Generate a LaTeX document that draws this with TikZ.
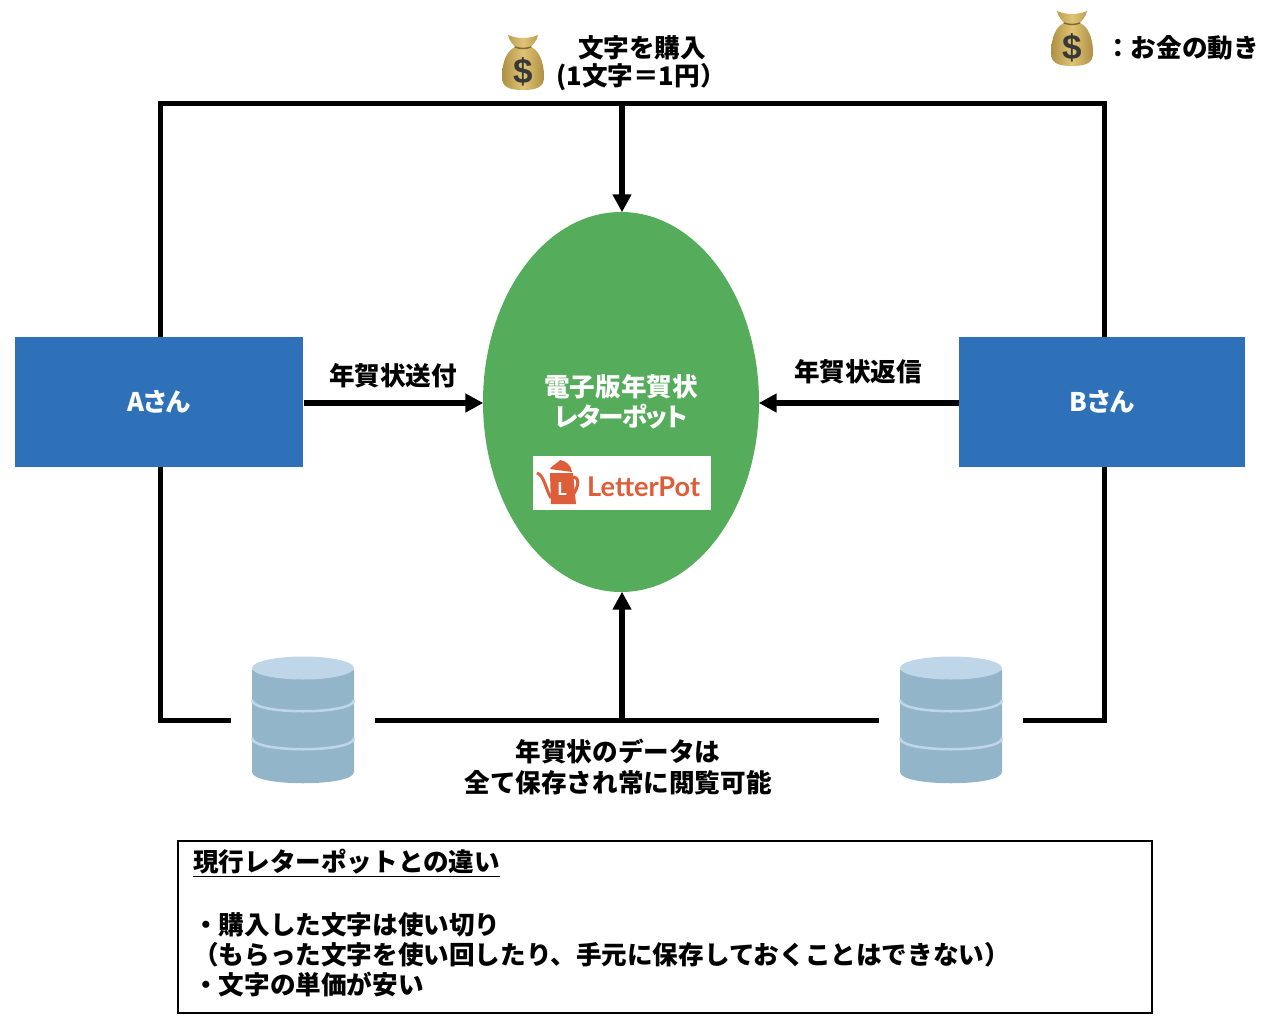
\documentclass[tikz,border=0pt]{standalone}
\usepackage{fontspec}
\setmainfont{Noto Sans CJK JP}
\newfontfamily\logofont{Lato}
\newfontfamily\bagfont{Liberation Sans}
\usetikzlibrary{arrows.meta,shapes.geometric}
\definecolor{boxblue}{HTML}{2E71B8}
\definecolor{potgreen}{HTML}{55AC5B}
\definecolor{logored}{HTML}{DE5E3A}
\definecolor{dbbody}{HTML}{93B5CA}
\definecolor{dbtop}{HTML}{BFD6E8}
\definecolor{bagmid}{HTML}{E0C474}
\definecolor{bagedge}{HTML}{AE9045}
\definecolor{bagneck}{HTML}{7F6A35}
\tikzset{
  jptext/.style={font=\bfseries\fontsize{25.6}{30}\selectfont,inner sep=0pt,align=center},
  tightjp/.style={font=\bfseries\fontsize{25.6}{30}\selectfont\addfontfeatures{RawFeature=+palt},inner sep=0pt,align=center},
  personbox/.style={tightjp,fill=boxblue,text=white,minimum width=288pt,minimum height=130pt},
  flow/.style={line width=5pt},
  flowarrow/.style={line width=6.5pt,-{Triangle[length=18pt,width=18pt]},shorten >=-0.5pt},
  gapnode/.style={inner sep=0pt,minimum width=144pt,minimum height=126pt},
  moneybag/.pic={
    % bag body and tied neck
    \path[left color=bagedge,right color=bagedge,middle color=bagmid]
      (-15,-28) .. controls (-6,-24) and (6,-24) .. (15,-28)
      .. controls (14,-22) and (10,-19) .. (8,-16)
      .. controls (15,-13) and (21,-3) .. (21,14)
      .. controls (21,24) and (14,27) .. (0,27)
      .. controls (-14,27) and (-21,24) .. (-21,14)
      .. controls (-21,-3) and (-15,-13) .. (-8,-16)
      .. controls (-10,-19) and (-14,-22) .. (-15,-28) -- cycle;
    \draw[bagneck,line width=1.5pt] (-8,-16) .. controls (-3,-14) and (3,-14) .. (8,-16);
    \node[text=black!78,font=\bagfont\bfseries\fontsize{35}{35}\selectfont,inner sep=0pt] (-bagsign) at (0,9) {\$};
  },
  dbstack/.pic={
    \fill[dbbody] (-51,-50) -- (-51,52) .. controls (-51,67) and (51,67) .. (51,52) -- (51,-50) -- cycle;
    \fill[dbtop] (0,-52) ellipse [x radius=51pt,y radius=11.5pt];
    % two bands round the drum
    \foreach \y in {-20,18}
      \draw[dbtop,line width=2.5pt] (-51,\y) .. controls (-51,\y+15) and (51,\y+15) .. (51,\y);
  }
}
\begin{document}
\begin{tikzpicture}[x=1pt,y=-1pt]
  \useasboundingbox (0,0) rectangle (1266,1030);
  % Boxes and the oval
  \node[personbox] (boxA) at (159,402) {Aさん};
  \node[personbox,minimum width=286pt] (boxB) at (1102,402) {Bさん};
  \node[ellipse,fill=potgreen,inner sep=0pt,minimum width=276pt,minimum height=380pt] (letterpot) at (621,402) {};
  \node[tightjp,text=white] (pottitle) at (621,402) {電子版年賀状\\{\addfontfeatures{RawFeature=+palt,LetterSpace=-5}レターポット}};
  % Logo
  \node[fill=white,inner sep=0pt,minimum width=178pt,minimum height=54pt] (logobox) at (622,483) {};
  \fill[logored] (550,473) -- (573,473) -- (576,504) -- (551,504) -- cycle;
  \fill[logored] (550,469) .. controls (552,465) and (557,464) .. (560,460) .. controls (566,461) and (571,465) .. (572,472) -- cycle;
  \draw[logored,line width=3pt] (551,498) .. controls (546,490) and (544,475) .. (537,473);
  \draw[logored,line width=3pt] (571,478) .. controls (580,474) and (580,488) .. (571,497);
  \node[text=white,font=\logofont\bfseries\fontsize{18}{18}\selectfont,inner sep=0pt] (logoL) at (562,489) {L};
  \node[anchor=west,text=logored,font=\logofont\bfseries\fontsize{27.2}{27}\selectfont,inner sep=0pt] (logotext) at (587,487) {LetterPot};
  % Drums, with a gap kept round each
  \node[gapnode] (dbA) at (303,720) {};
  \node[gapnode] (dbB) at (951,720) {};
  \pic at (dbA) {dbstack};
  \pic at (dbB) {dbstack};
  % Bags
  \pic (bagtop) at (523,63) {moneybag};
  \pic (bagkey) at (1072,39) {moneybag};
  % Top line
  \coordinate (topjoin) at (622,104);
  \draw[flow] ([xshift=1pt]boxA.north) |- (topjoin) -| ([xshift=2pt]boxB.north);
  \draw[flowarrow] (topjoin) -- (letterpot.north -| topjoin);
  % Middle arrows
  \coordinate (leftstart) at (304,403);
  \coordinate (rightstart) at (959,403);
  \draw[flowarrow] (leftstart) -- (letterpot.west |- leftstart);
  \draw[flowarrow] (rightstart) -- (letterpot.east |- rightstart);
  % Bottom line
  \coordinate (botjoin) at (622,720);
  \draw[flow] ([xshift=1pt]boxA.south) |- (dbA.west);
  \draw[flow] (dbA.east) -- (dbB.west);
  \draw[flow] (dbB.east) -| ([xshift=2pt]boxB.south);
  \draw[flowarrow] (botjoin) -- (letterpot.south -| botjoin);
  % Labels
  \node[jptext] (buylabel) at (642,47.5) {文字を購入};
  \node[jptext] (pricelabel) at (641,77.5) {(1文字＝1円）};
  \node[jptext] (keylabel) at (1182,47.5) {：お金の動き};
  \node[jptext] (sendlabel) at (393,375.5) {年賀状送付};
  \node[jptext] (replylabel) at (858,371.5) {年賀状返信};
  \node[jptext] (storelabel) at (618,752) {年賀状のデータは};
  \node[jptext] (storelabelb) at (618,782.5) {全て保存され常に閲覧可能};
  % Note at the bottom
  \node[draw,line width=1.5pt,minimum width=974pt,minimum height=172pt,inner sep=0pt] (notebox) at (665,927) {};
  \node[jptext,anchor=west] (notehead) at (193,863) {\underline{現行レターポットとの違い}};
  \node[jptext,anchor=west] (notea) at (193,924.5) {・購入した文字は使い切り};
  \node[jptext,anchor=west] (noteb) at (193,954.5) {（もらった文字を使い回したり、手元に保存しておくことはできない）};
  \node[jptext,anchor=west] (notec) at (193,984.5) {・文字の単価が安い};
\end{tikzpicture}
\end{document}
